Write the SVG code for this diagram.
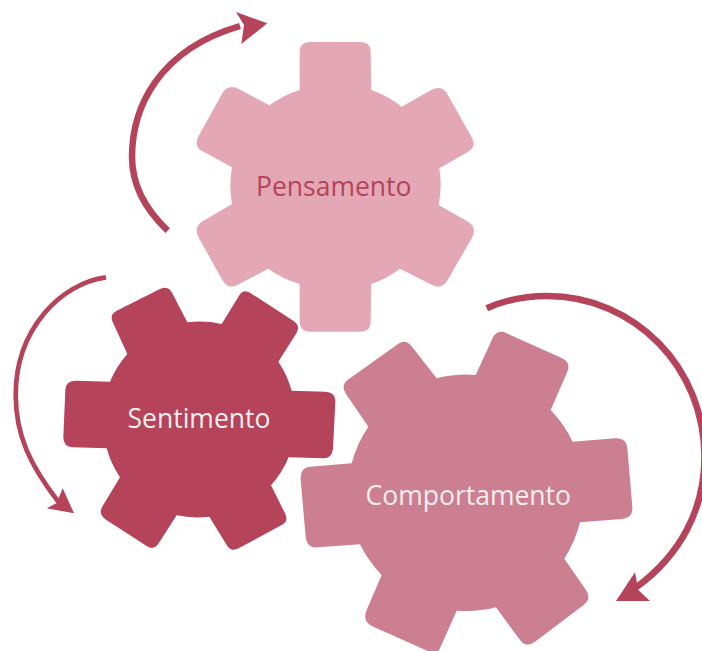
<svg xmlns="http://www.w3.org/2000/svg" width="702" height="651" viewBox="0 0 702 651">
<style>
.label{font-family:"Open Sans","Noto Sans",sans-serif;font-size:26.5px;font-weight:500;text-anchor:middle}
.arc{fill:none;stroke:#b5435a}
.head{fill:#b5435a}
</style>
<rect width="702" height="651" fill="#ffffff"/>
<g id="connectors">
<path class="arc" stroke-width="6.5" d="M167.7 230.7C146 210 132 186 132 157C132 108 158 50 240 26"/>
<polygon class="head" points="267.3,23.3 236,12 244,25 241.3,44"/>
<path class="arc" stroke-width="4.7" d="M106 277.3C62 283 15.7 328 15.7 395C15.7 435 30 465 58.3 501.7"/>
<polygon class="head" points="74,513.3 46.7,508.3 56.7,503 62.7,488.3"/>
<path class="arc" stroke-width="6.5" d="M486.7 308.3C505 300 525 296 547 296C635 296 704.5 368 704.5 457C704.5 510 680 555 636.7 587"/>
<polygon class="head" points="616,601 650,601 638.3,590 635,572.3"/>
</g>
<g id="pensamento">
<path fill="#e4a7b5" transform="translate(180 30) scale(.33333)" d="M359 180L359 66Q359 36 389 36L542 36Q572 36 572 66L574 180A309 309 0 0 1 665 230L752 181Q785 163 802 192L873 318Q893 350 862 367L778 415A309 309 0 0 1 776 525L862 574Q893 592 875 625L803 750Q785 782 752 763L660 716A309 309 0 0 1 574 762L572 876Q572 905 542 905L389 905Q359 905 359 876L359 762A309 309 0 0 1 265 716L178 762Q145 782 127 750L57 625Q38 592 68 574L156 522A309 309 0 0 1 156 412L68 364Q38 347 57 316L127 190Q145 160 178 178L268 226A309 309 0 0 1 359 180Z"/>
<text class="label" x="333.7" y="196" fill="#b5435a">Pensamento</text>
</g>
<g id="sentimento">
<path fill="#b5435a" transform="translate(50 280) scale(.33333)" d="M232 222L188 126Q178 103 200 92L330 27Q354 15 366 38L412 127A293 293 0 0 1 515 132L568 46Q580 25 601 39L731 123Q752 138 740 158L685 245A293 293 0 0 1 725 332L825 335Q857 336 856 365L849 506Q846 536 818 535L716 532A293 293 0 0 1 663 616L705 700Q717 724 695 735L566 805Q543 817 530 795L478 710A293 293 0 0 1 380 706L326 790Q312 813 290 798L168 719Q143 703 158 678L210 592A293 293 0 0 1 170 505L68 502Q39 501 40 470L46 330Q47 302 78 302L180 305A293 293 0 0 1 232 222Z"/>
<text class="label" x="199" y="427.7" fill="#f8eef0">Sentimento</text>
</g>
<g id="comportamento">
<path fill="#cb7f90" transform="translate(290 320) scale(.33333)" d="M235 320L168 222Q150 196 176 178L324 72Q347 56 366 80L440 175A357 357 0 0 1 557 165L607 56Q620 26 650 40L815 114Q844 128 832 155L782 270A357 357 0 0 1 848 365L975 355Q1009 352 1012 385L1027 560Q1030 594 995 597L870 607A357 357 0 0 1 823 716L888 810Q906 836 880 856L735 965Q708 985 690 960L618 862A357 357 0 0 1 500 872L450 985Q441 1005 420 996L250 920Q215 905 230 870L275 765A357 357 0 0 1 210 673L85 682Q50 685 47 650L32 480Q29 443 60 440L185 430A357 357 0 0 1 235 320Z"/>
<text class="label" x="468.3" y="505" fill="#f8eef0">Comportamento</text>
</g>
</svg>
